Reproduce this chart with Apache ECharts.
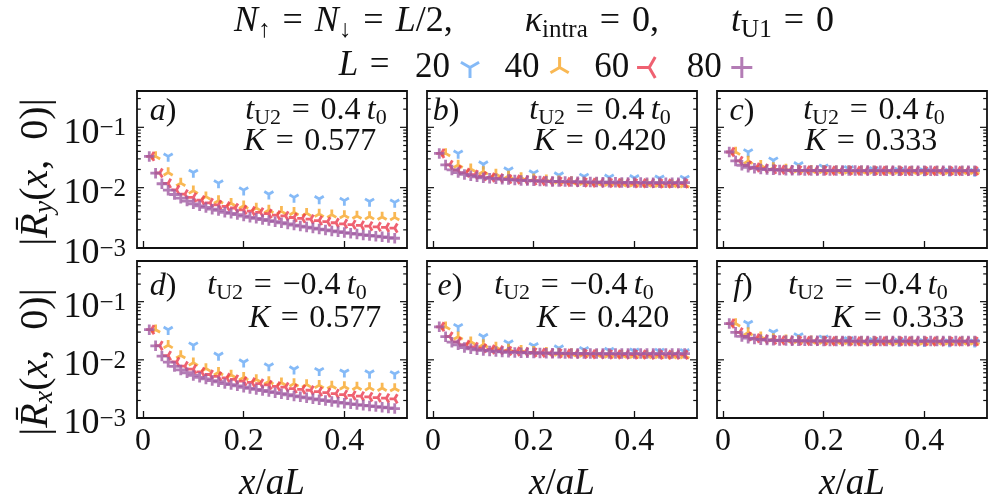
<!DOCTYPE html>
<html>
<head>
<meta charset="utf-8">
<script src="https://cdn.jsdelivr.net/npm/echarts@6/dist/echarts.min.js"></script>
<style>
  html, body { margin: 0; padding: 0; background: #fff; }
  #main { width: 996px; height: 504px; }
</style>
</head>
<body>
<div id="main"></div>
<script>
// chain lengths L, point k sits at x/aL = (k+1)/L
const sizes = [20, 40, 60, 80];

// a) and d)  K = 0.577
const A20 = [0.033, 0.0178, 0.0119, 0.0091, 0.0078, 0.0069, 0.0065, 0.0061, 0.0059, 0.0057];
const A40 = [0.033, 0.0178, 0.0119, 0.0089, 0.0071, 0.0061, 0.0055, 0.0050, 0.0046, 0.00425,
  0.00405, 0.0039, 0.00377, 0.00366, 0.00356, 0.00347, 0.0034, 0.00333, 0.00327, 0.00322];
const A60 = [0.033, 0.0175, 0.0118, 0.0092, 0.0078, 0.0069, 0.0062, 0.0056, 0.0052, 0.0049,
  0.0046, 0.0043, 0.0041, 0.0039, 0.0037, 0.0035, 0.0034, 0.0032, 0.0031, 0.0030,
  0.00285, 0.00273, 0.00262, 0.00252, 0.00244, 0.00237, 0.0023, 0.00224, 0.00219, 0.00214];
const A80 = [0.033, 0.0174, 0.0116, 0.0091, 0.0077, 0.0067, 0.0060, 0.0054, 0.0050, 0.0047,
  0.0044, 0.0042, 0.0039, 0.00375, 0.00358, 0.00338, 0.00323, 0.0031, 0.00297, 0.00285,
  0.00273, 0.00262, 0.00251, 0.0024, 0.00231, 0.00222, 0.00214, 0.00206, 0.00199, 0.00192,
  0.00186, 0.0018, 0.00175, 0.0017, 0.00165, 0.00161, 0.00157, 0.00153, 0.00149, 0.00145];

// b)  K = 0.420, tU2 = 0.4
const B20 = [0.037, 0.0245, 0.0195, 0.0174, 0.0161, 0.0153, 0.0148, 0.0145, 0.0143, 0.0142];
const B40 = [0.037, 0.0238, 0.0205, 0.0185, 0.0168, 0.0156, 0.0147, 0.014, 0.0135, 0.013,
  0.0126, 0.0123, 0.0121, 0.0119, 0.0117, 0.0116, 0.0115, 0.0114, 0.0113, 0.0112];
const B60 = [0.037, 0.0238, 0.0196, 0.0176, 0.0164, 0.0155, 0.0148, 0.0143, 0.0139, 0.0136,
  0.0133, 0.0131, 0.0129, 0.0127, 0.0126, 0.0124, 0.0123, 0.0122, 0.0121, 0.0121,
  0.012, 0.0119, 0.0119, 0.0118, 0.0118, 0.0118, 0.0117, 0.0117, 0.0117, 0.0117];
const B80 = [0.037, 0.0238, 0.0197, 0.0178, 0.0166, 0.0158, 0.0151, 0.0146, 0.0143, 0.014,
  0.0138, 0.0136, 0.0134, 0.0132, 0.0131, 0.013, 0.0129, 0.0128, 0.0127, 0.0127,
  0.0126, 0.0126, 0.0125, 0.0125, 0.0124, 0.0124, 0.0123, 0.0123, 0.0123, 0.0122,
  0.0122, 0.0122, 0.0122, 0.0121, 0.0121, 0.0121, 0.0121, 0.0121, 0.0121, 0.0121];

// c)  K = 0.333, tU2 = 0.4
const C20 = [0.039, 0.0285, 0.0238, 0.0218, 0.0205, 0.0197, 0.0192, 0.0189, 0.0187, 0.0185];
const C40 = [0.039, 0.0277, 0.0235, 0.0215, 0.0204, 0.0198, 0.0195, 0.0193, 0.0191, 0.019,
  0.0189, 0.0189, 0.0188, 0.0188, 0.0187, 0.0187, 0.0187, 0.0186, 0.0186, 0.0186];
const C60 = [0.039, 0.0277, 0.0234, 0.0216, 0.0207, 0.0201, 0.0198, 0.0196, 0.0194, 0.0193,
  0.0192, 0.0192, 0.0191, 0.0191, 0.0191, 0.019, 0.019, 0.019, 0.019, 0.019,
  0.0189, 0.0189, 0.0189, 0.0189, 0.0189, 0.0189, 0.0189, 0.0189, 0.0189, 0.0189];
const C80 = [0.039, 0.0277, 0.0235, 0.0218, 0.0209, 0.0203, 0.02, 0.0198, 0.0196, 0.0195,
  0.0194, 0.0194, 0.0193, 0.0193, 0.0193, 0.0193, 0.0192, 0.0192, 0.0192, 0.0192,
  0.0192, 0.0192, 0.0192, 0.0191, 0.0191, 0.0191, 0.0191, 0.0191, 0.0191, 0.0191,
  0.0191, 0.0191, 0.0191, 0.0191, 0.0191, 0.0191, 0.0191, 0.0191, 0.0191, 0.0191];

// e)  K = 0.420, tU2 = -0.4
const E20 = [0.037, 0.025, 0.0194, 0.0174, 0.0159, 0.0149, 0.0144, 0.014, 0.0139, 0.0137];
const E40 = [0.037, 0.025, 0.0205, 0.0183, 0.0166, 0.0154, 0.0146, 0.014, 0.0135, 0.0131,
  0.0128, 0.0126, 0.0124, 0.0122, 0.0121, 0.012, 0.0119, 0.0119, 0.0118, 0.0118];
const E60 = [0.037, 0.0252, 0.0204, 0.0181, 0.0167, 0.0158, 0.0151, 0.0146, 0.0142, 0.0139,
  0.0136, 0.0134, 0.0132, 0.013, 0.0129, 0.0128, 0.0127, 0.0126, 0.0125, 0.0125,
  0.0124, 0.0124, 0.0123, 0.0123, 0.0123, 0.0122, 0.0122, 0.0122, 0.0122, 0.0122];
const E80 = [0.037, 0.025, 0.0201, 0.0181, 0.0163, 0.0155, 0.0149, 0.0145, 0.0142, 0.0139,
  0.0137, 0.0135, 0.0134, 0.0133, 0.0132, 0.0131, 0.0131, 0.013, 0.013, 0.013,
  0.0129, 0.0129, 0.0129, 0.0129, 0.0128, 0.0128, 0.0128, 0.0128, 0.0128, 0.0128,
  0.0128, 0.0128, 0.0128, 0.0128, 0.0128, 0.0128, 0.0128, 0.0128, 0.0128, 0.0128];

// f)  K = 0.333, tU2 = -0.4
const F20 = [0.042, 0.0297, 0.0257, 0.0235, 0.0221, 0.0212, 0.0207, 0.0204, 0.0202, 0.0201];
const F40 = [0.042, 0.0295, 0.025, 0.0232, 0.0222, 0.0216, 0.0212, 0.021, 0.0208, 0.0207,
  0.0206, 0.0206, 0.0205, 0.0205, 0.0205, 0.0204, 0.0204, 0.0204, 0.0204, 0.0204];
const F60 = [0.042, 0.0297, 0.0252, 0.0234, 0.0225, 0.0219, 0.0216, 0.0214, 0.0212, 0.0211,
  0.021, 0.021, 0.0209, 0.0209, 0.0209, 0.0208, 0.0208, 0.0208, 0.0208, 0.0208,
  0.0208, 0.0208, 0.0207, 0.0207, 0.0207, 0.0207, 0.0207, 0.0207, 0.0207, 0.0207];
const F80 = [0.042, 0.0297, 0.0253, 0.0236, 0.0227, 0.0222, 0.0219, 0.0217, 0.0215, 0.0214,
  0.0213, 0.0213, 0.0212, 0.0212, 0.0212, 0.0211, 0.0211, 0.0211, 0.0211, 0.0211,
  0.021, 0.021, 0.021, 0.021, 0.021, 0.021, 0.021, 0.021, 0.021, 0.021,
  0.021, 0.021, 0.021, 0.021, 0.021, 0.021, 0.021, 0.021, 0.021, 0.021];

const panelData = [
  [A20, A40, A60, A80], [B20, B40, B60, B80], [C20, C40, C60, C80],
  [A20, A40, A60, A80], [E20, E40, E60, E80], [F20, F40, F60, F80]
];
const panelTags = ['a', 'b', 'c', 'd', 'e', 'f'];
const panelK = ['0.577', '0.420', '0.333', '0.577', '0.420', '0.333'];
const panelT = ['0.4', '0.4', '0.4', '\u22120.4', '\u22120.4', '\u22120.4'];

const xTicks = [0, 0.2, 0.4];
const yMajor = [0.001, 0.01, 0.1];
const yMinor = [0.002, 0.003, 0.004, 0.005, 0.006, 0.007, 0.008, 0.009,
  0.02, 0.03, 0.04, 0.05, 0.06, 0.07, 0.08, 0.09, 0.2, 0.3, 0.4];

const colors = ['#67a9f5', '#f8a628', '#eb3a4e', '#a05ba2'];
// matplotlib '1', '2', '3', '+' markers (stroked lines, centred on the junction)
const SYM = [
  'path://M0,-10 M0,0 L0,10 M0,0 L-8.66,-5 M0,0 L8.66,-5',
  'path://M0,10 M0,0 L0,-10 M0,0 L-8.66,5 M0,0 L8.66,5',
  'path://M10,0 M0,0 L-10,0 M0,0 L5,-8.66 M0,0 L5,8.66',
  'path://M-10,0 L10,0 M0,-10 L0,10'
];

const SERIF = '"Liberation Serif", "DejaVu Serif", serif';
const INK = '#111';
const EQ = '\u2004=\u2004';

function richSet(size) {
  const sub = Math.round(size * 0.7);
  const lh = Math.round(size * 1.15);
  return {
    r: { fontFamily: SERIF, fontSize: size, color: INK, lineHeight: lh },
    i: { fontFamily: SERIF, fontSize: size, fontStyle: 'italic', color: INK, lineHeight: lh },
    sub: { fontFamily: SERIF, fontSize: sub, color: INK, lineHeight: sub, verticalAlign: 'bottom' },
    isub: { fontFamily: SERIF, fontSize: sub, fontStyle: 'italic', color: INK, lineHeight: sub, verticalAlign: 'bottom' }
  };
}

function logLabel(v) {
  const lg = Math.log10(v);
  const e = Math.round(lg);
  if (Math.abs(lg - e) > 1e-6) return '';
  return '{b|10}{s|' + (e < 0 ? '\u2212' : '') + Math.abs(e) + '}';
}

const gridLeft = [137, 427, 717];
const gridTop = [91, 261];
const yMax = [0.4, 0.5];
const X_MIN = -0.0119, X_MAX = 0.5244;

const grids = [], xAxes = [], yAxes = [], series = [];

panelData.forEach((sets, p) => {
  const row = Math.floor(p / 3), col = p % 3;
  grids.push({
    left: gridLeft[col], top: gridTop[row], width: 270, height: 157,
    show: true, borderColor: INK, borderWidth: 1.8, backgroundColor: 'transparent'
  });
  xAxes.push({
    gridIndex: p, type: 'value', min: X_MIN, max: X_MAX,
    axisLine: { show: false }, splitLine: { show: false },
    axisTick: { inside: true, length: 7, customValues: xTicks, lineStyle: { color: INK, width: 1.3 } },
    axisLabel: {
      show: row === 1, customValues: xTicks, margin: 8,
      fontFamily: SERIF, fontSize: 32, color: INK,
      formatter: v => String(v)
    },
    name: row === 1 ? '{i|x}{r|/}{i|aL}' : '',
    nameLocation: 'middle', nameGap: 45,
    nameTextStyle: { rich: richSet(37) }
  });
  yAxes.push({
    gridIndex: p, type: 'log', logBase: 10, min: 0.001, max: yMax[row],
    axisLine: { show: false }, axisTick: { show: false }, splitLine: { show: false },
    axisLabel: {
      show: col === 0, margin: 11, formatter: logLabel, padding: [12, 0, 0, 0],
      rich: {
        b: { fontFamily: SERIF, fontSize: 36, color: INK, lineHeight: 34 },
        s: { fontFamily: SERIF, fontSize: 25, color: INK, lineHeight: 10, verticalAlign: 'top' }
      }
    }
  });

  // log ticks on both sides, drawn inside the frame
  const tickData = yMajor.map(v => [0, v, 1]).concat(yMinor.filter(v => v < yMax[row]).map(v => [0, v, 0]));
  series.push({
    type: 'custom', xAxisIndex: p, yAxisIndex: p, silent: true, z: 1,
    encode: { x: 0, y: 1 }, data: tickData,
    renderItem: (params, api) => {
      const cs = params.coordSys;
      const y = api.coord([0, api.value(1)])[1];
      const len = api.value(2) ? 7 : 3.8;
      const st = { stroke: INK, lineWidth: 1.2 };
      return {
        type: 'group', children: [
          { type: 'line', shape: { x1: cs.x, y1: y, x2: cs.x + len, y2: y }, style: st },
          { type: 'line', shape: { x1: cs.x + cs.width - len, y1: y, x2: cs.x + cs.width, y2: y }, style: st }
        ]
      };
    }
  });

  sets.forEach((vals, s) => {
    const L = sizes[s];
    series.push({
      type: 'scatter', name: String(L), xAxisIndex: p, yAxisIndex: p,
      symbol: SYM[s], symbolSize: 10.5, symbolKeepAspect: true,
      itemStyle: { color: colors[s], borderColor: colors[s], borderWidth: 2.8 },
      emphasis: { disabled: true },
      data: vals.map((v, k) => [(k + 1) / L, v])
    });
  });
});

// panel annotations
const tagPos = [[163, 112], [446, 112], [742, 112], [163, 287], [450, 287], [743, 287]];
const tPos = [[316, 111], [600, 111], [874, 111], [287, 286], [574, 286], [868, 286]];
const kPos = [[310, 142], [600, 142], [871, 142], [315, 319], [603, 319], [898, 319]];

function txt(x, y, text, size, extra) {
  return Object.assign({
    type: 'text', x: x, y: y, silent: true,
    style: {
      text: text, rich: richSet(size),
      fontFamily: SERIF, fontSize: size, fill: INK,
      textAlign: 'center', textVerticalAlign: 'middle',
      align: 'center', verticalAlign: 'middle'
    }
  }, extra || {});
}

const graphics = [];
graphics.push(txt(534, 22,
  '{i|N}{sub|\u2191}{r|' + EQ + '}{i|N}{sub|\u2193}{r|' + EQ + '}{i|L}{r|/2,\u2003\u2003}{i|\u03ba}{sub|intra}{r|' + EQ + '0,\u2003\u2003}{i|t}{sub|U1}{r|' + EQ + '0}', 36));
graphics.push(txt(370, 66, '{i|L}{r|' + EQ + '}', 35));
panelTags.forEach((tag, p) => {
  graphics.push(txt(tagPos[p][0], tagPos[p][1], '{i|' + tag + '}{r|)}', 32));
  graphics.push(txt(tPos[p][0], tPos[p][1], '{i|t}{sub|U2}{r|' + EQ + panelT[p] + '\u2009}{i|t}{sub|0}', 32));
  graphics.push(txt(kPos[p][0], kPos[p][1], '{i|K}{r|' + EQ + panelK[p] + '}', 32));
});
graphics.push(txt(36, 172, '{r||}{i|R\u0304}{isub|y}{r|(}{i|x}{r|,\u2005 0)|}', 40, { rotation: Math.PI / 2 }));
graphics.push(txt(36, 362, '{r||}{i|R\u0304}{isub|x}{r|(}{i|x}{r|,\u2005 0)|}', 40, { rotation: Math.PI / 2 }));

const chart = echarts.init(document.getElementById('main'));
chart.setOption({
  animation: false,
  backgroundColor: '#fff',
  grid: grids,
  xAxis: xAxes,
  yAxis: yAxes,
  legend: {
    data: sizes.map((L, s) => ({ name: String(L), icon: SYM[s] })),
    left: 410, top: 45, align: 'right',
    itemWidth: 30, itemHeight: 21, itemGap: 24,
    selectedMode: false,
    textStyle: { fontFamily: SERIF, fontSize: 35, color: INK },
    itemStyle: { borderWidth: 3 }
  },
  graphic: graphics,
  series: series
});
</script>
</body>
</html>
